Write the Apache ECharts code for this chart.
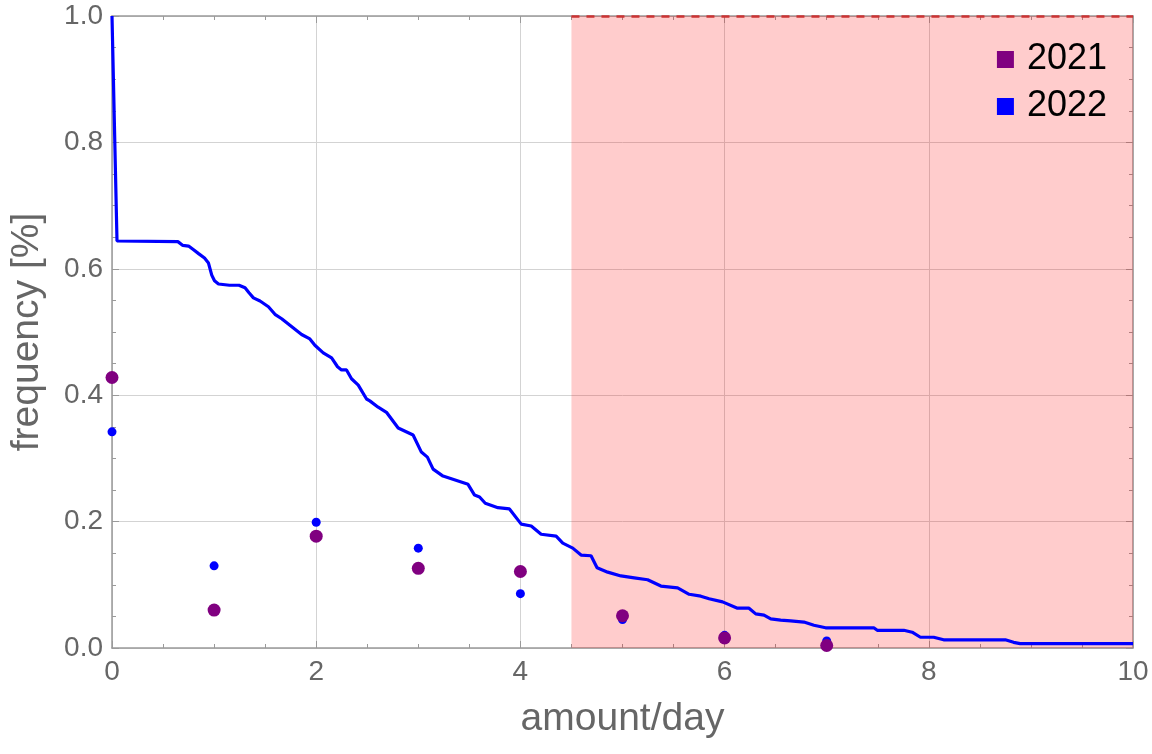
<!DOCTYPE html>
<html><head><meta charset="utf-8">
<script src="https://cdn.jsdelivr.net/npm/echarts@6/dist/echarts.min.js"></script>
<style>html,body{margin:0;padding:0;background:#fff}#c{width:1152px;height:754px}</style>
</head><body><div id="c"></div>
<script>
// ---- data ----
const categories = [0, 1, 2, 3, 4, 5, 6, 7];
const values2021 = [0.428, 0.060, 0.177, 0.126, 0.121, 0.051, 0.016, 0.004];
const values2022 = [0.342, 0.130, 0.199, 0.158, 0.086, 0.045, 0.020, 0.011];
const seriesNames = ['2021', '2022'];
const curveX = [0, 0.049, 0.645, 0.694, 0.750, 0.799, 0.848, 0.906, 0.945, 0.977, 1.004, 1.043, 1.151, 1.244, 1.303, 1.342, 1.385, 1.450, 1.532, 1.596, 1.662, 1.857, 1.938, 1.987, 2.069, 2.151, 2.209, 2.248, 2.297, 2.346, 2.412, 2.493, 2.525, 2.607, 2.688, 2.803, 2.949, 3.030, 3.089, 3.145, 3.242, 3.487, 3.551, 3.600, 3.656, 3.780, 3.893, 4.008, 4.106, 4.203, 4.350, 4.415, 4.513, 4.594, 4.692, 4.751, 4.855, 4.985, 5.115, 5.246, 5.376, 5.540, 5.653, 5.767, 5.848, 5.980, 6.126, 6.239, 6.305, 6.386, 6.452, 6.549, 6.647, 6.777, 6.875, 6.989, 7.461, 7.495, 7.755, 7.837, 7.918, 8.048, 8.145, 8.749, 8.830, 8.895, 10];
const curveY = [1.0, 0.644, 0.643, 0.637, 0.636, 0.630, 0.624, 0.617, 0.609, 0.590, 0.581, 0.576, 0.574, 0.574, 0.570, 0.562, 0.554, 0.549, 0.540, 0.528, 0.521, 0.496, 0.489, 0.479, 0.467, 0.459, 0.445, 0.440, 0.440, 0.426, 0.416, 0.394, 0.391, 0.381, 0.373, 0.348, 0.337, 0.310, 0.302, 0.283, 0.272, 0.259, 0.242, 0.239, 0.229, 0.222, 0.220, 0.196, 0.193, 0.180, 0.177, 0.166, 0.158, 0.147, 0.146, 0.127, 0.120, 0.114, 0.111, 0.108, 0.098, 0.095, 0.085, 0.082, 0.078, 0.073, 0.063, 0.063, 0.054, 0.052, 0.046, 0.044, 0.043, 0.041, 0.036, 0.032, 0.032, 0.028, 0.028, 0.025, 0.017, 0.017, 0.013, 0.013, 0.009, 0.007, 0.007];
const shadeFrom = 4.5;
const shadeTo = 10;
const shadeTop = 1.0;
const xRange = [0, 10];
const yRange = [0, 1];

// ---- chart ----
const FONT = '"Liberation Sans", Arial, sans-serif';
const GRAY = '#666666';
const FRAME = '#9a9a9a';
const chart = echarts.init(document.getElementById('c'), null, {renderer: 'canvas'});

const baseAxis = {
  type: 'value',
  axisLine: {show: true, onZero: false, lineStyle: {color: FRAME, width: 1.5}},
  axisTick: {show: true, inside: true, length: 7, lineStyle: {color: FRAME, width: 1}},
  minorTick: {show: true, splitNumber: 4, length: 4, lineStyle: {color: FRAME, width: 1}},
  splitLine: {show: false},
  axisLabel: {show: false}
};

const option = {
  animation: false,
  backgroundColor: '#ffffff',
  grid: {left: 110, right: 19, top: 16, bottom: 106, containLabel: false},
  legend: {
    data: seriesNames,
    orient: 'vertical',
    right: 45, top: 39,
    padding: 0,
    itemWidth: 17, itemHeight: 17, itemGap: 6,
    icon: 'rect',
    itemStyle: {opacity: 1},
    textStyle: {fontSize: 36, color: '#000', fontFamily: FONT, lineHeight: 41, padding: [0, 0, 0, 8]}
  },
  xAxis: [
    Object.assign({}, baseAxis, {
      position: 'bottom', min: xRange[0], max: xRange[1], interval: 2,
      splitLine: {show: true, lineStyle: {color: '#d3d3d3', width: 1}},
      axisLabel: {show: true, fontSize: 28, color: GRAY, fontFamily: FONT, margin: 10,
        formatter: v => String(v)},
      name: 'amount/day', nameLocation: 'middle', nameGap: 52,
      nameTextStyle: {fontSize: 39, color: GRAY, fontFamily: FONT}
    }),
    Object.assign({}, baseAxis, {position: 'top', min: xRange[0], max: xRange[1], interval: 2})
  ],
  yAxis: [
    Object.assign({}, baseAxis, {
      position: 'left', min: yRange[0], max: yRange[1], interval: 0.2,
      splitLine: {show: true, lineStyle: {color: '#d3d3d3', width: 1}},
      axisLabel: {show: true, fontSize: 28, color: GRAY, fontFamily: FONT, margin: 9,
        formatter: v => v.toFixed(1)},
      name: 'frequency [%]', nameLocation: 'middle', nameGap: 65,
      nameTextStyle: {fontSize: 39, color: GRAY, fontFamily: FONT}
    }),
    Object.assign({}, baseAxis, {position: 'right', min: yRange[0], max: yRange[1], interval: 0.2})
  ],
  series: [
    {
      name: 'curve', type: 'line', xAxisIndex: 0, yAxisIndex: 0,
      data: curveX.map((x, i) => [x, curveY[i]]),
      showSymbol: false, symbol: 'none',
      lineStyle: {color: '#0000ff', width: 3.2},
      z: 2, clip: true
    },
    {
      name: '2022', type: 'scatter',
      data: categories.map((c, i) => [c, values2022[i]]),
      symbolSize: 9, itemStyle: {color: '#0000ff', opacity: 1}, z: 3, clip: true
    },
    {
      name: '2021', type: 'scatter',
      data: categories.map((c, i) => [c, values2021[i]]),
      symbolSize: 13, itemStyle: {color: '#800080', opacity: 1}, z: 4, clip: true
    },
    {
      name: 'shade', type: 'line', data: [], z: 10,
      markArea: {
        silent: true,
        itemStyle: {color: 'rgba(255,0,0,0.2)'},
        data: [[{coord: [shadeFrom, 0]}, {coord: [shadeTo, shadeTop]}]]
      },
      markLine: {
        silent: true, symbol: ['none', 'none'], label: {show: false},
        lineStyle: {color: '#cc3333', width: 2.5, type: [8, 7]},
        data: [[{coord: [shadeFrom, shadeTop]}, {coord: [shadeTo, shadeTop]}]]
      }
    }
  ]
};
chart.setOption(option);
</script>
</body></html>
